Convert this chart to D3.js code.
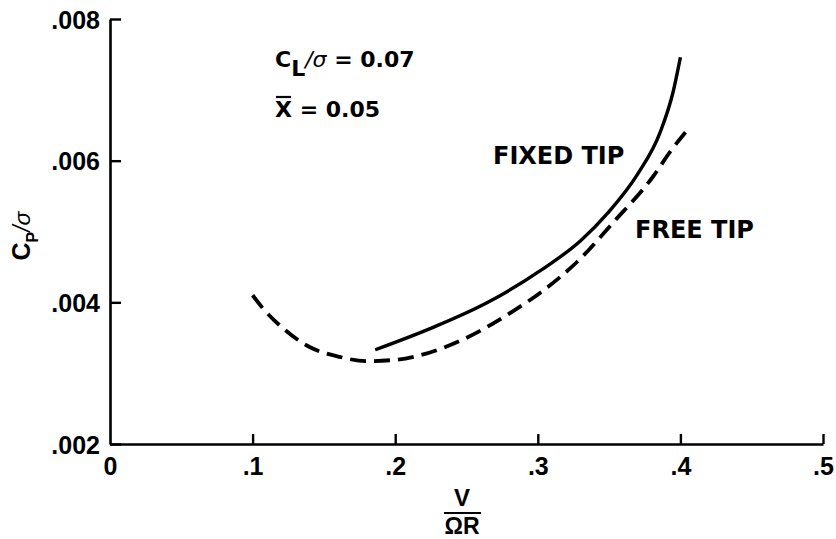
<!DOCTYPE html>
<html>
<head>
<meta charset="utf-8">
<script src="https://cdn.jsdelivr.net/npm/d3@7"></script>
<style>
  html, body { margin: 0; padding: 0; background: #fff; }
  svg { display: block; font-family: "Liberation Sans", Arial, Helvetica, sans-serif; }
  .lbl { font-weight: bold; fill: #000; }
  .wide { font-family: "DejaVu Sans", sans-serif; font-weight: bold; fill: #000; }
</style>
</head>
<body>
<svg id="chart" width="836" height="539"></svg>
<script>
// Rotor power coefficient vs advance ratio, fixed tip and free tip
const xTicks = [0, 0.1, 0.2, 0.3, 0.4, 0.5];
const xTickLabels = ["0", ".1", ".2", ".3", ".4", ".5"];
const yTicks = [0.002, 0.004, 0.006, 0.008];
const yTickLabels = [".002", ".004", ".006", ".008"];

const fixedTipMu = [0.186, 0.227, 0.264, 0.302, 0.330, 0.349, 0.370, 0.386, 0.395, 0.400];
const fixedTipCp = [0.00333, 0.00365, 0.00399, 0.00445, 0.00487, 0.00526, 0.00581, 0.00641, 0.00698, 0.00746];

const freeTipMu = [0.100, 0.107, 0.121, 0.140, 0.161, 0.180, 0.201, 0.217, 0.248, 0.283, 0.302, 0.328, 0.353, 0.381, 0.393, 0.406];
const freeTipCp = [0.00410, 0.00392, 0.00364, 0.00337, 0.00323, 0.00317, 0.00319, 0.00325, 0.00348, 0.00388, 0.00414, 0.00458, 0.00513, 0.00578, 0.00613, 0.00646];

const svg = d3.select("#chart");
const plotLeft = 110, plotRight = 823, plotTop = 19, plotBottom = 444;

const x = d3.scaleLinear().domain([0, 0.5]).range([plotLeft, plotRight]);
const y = d3.scaleLinear().domain([0.002, 0.008]).range([plotBottom, plotTop]);

const FS = 25;

// Y axis: ticks point inward
const yAxis = d3.axisLeft(y)
  .tickValues(yTicks)
  .tickFormat((d, i) => yTickLabels[i])
  .tickSizeInner(-11)
  .tickSizeOuter(0)
  .tickPadding(10);

const gy = svg.append("g").attr("transform", `translate(${plotLeft},0)`).call(yAxis);
gy.select(".domain").attr("stroke-width", 2.6).attr("stroke", "#000");
gy.selectAll(".tick line").attr("stroke-width", 2.4).attr("stroke", "#000");
gy.selectAll(".tick text")
  .attr("class", "lbl")
  .attr("font-size", FS)
  .attr("font-family", "Liberation Sans, Arial, sans-serif")
  .attr("dy", "0.36em");

// X axis: ticks point upward
const xAxis = d3.axisBottom(x)
  .tickValues(xTicks)
  .tickFormat((d, i) => xTickLabels[i])
  .tickSizeInner(-10)
  .tickSizeOuter(0)
  .tickPadding(13);

const gx = svg.append("g").attr("transform", `translate(0,${plotBottom})`).call(xAxis);
gx.select(".domain").attr("stroke-width", 2.6).attr("stroke", "#000");
gx.selectAll(".tick line").attr("stroke-width", 2.4).attr("stroke", "#000");
gx.selectAll(".tick text")
  .attr("class", "lbl")
  .attr("font-size", FS)
  .attr("font-family", "Liberation Sans, Arial, sans-serif");
gx.selectAll(".tick").filter(d => d === 0).select("line").remove();

// Curves
const line = d3.line()
  .x(d => x(d[0]))
  .y(d => y(d[1]))
  .curve(d3.curveMonotoneX);

const fixedData = fixedTipMu.map((m, i) => [m, fixedTipCp[i]]);
const freeData = freeTipMu.map((m, i) => [m, freeTipCp[i]]);

svg.append("path")
  .datum(fixedData)
  .attr("d", line)
  .attr("fill", "none")
  .attr("stroke", "#000")
  .attr("stroke-width", 3.4);

svg.append("path")
  .datum(freeData)
  .attr("d", line)
  .attr("fill", "none")
  .attr("stroke", "#000")
  .attr("stroke-width", 3.8)
  .attr("stroke-dasharray", "16,8");

// Curve labels
svg.append("text").attr("class", "wide").attr("x", 493).attr("y", 164)
  .attr("font-size", 24).text("FIXED TIP");
svg.append("text").attr("class", "wide").attr("x", 635).attr("y", 238)
  .attr("font-size", 24).text("FREE TIP");

// Condition annotations
const t1 = svg.append("text").attr("class", "wide").attr("x", 275).attr("y", 67).attr("font-size", 22);
t1.append("tspan").text("C");
t1.append("tspan").attr("dy", 9).text("L");
t1.append("tspan").attr("dy", -9).attr("font-weight", "normal").attr("font-style", "italic").text("/σ");
t1.append("tspan").text(" = 0.07");

const t2 = svg.append("text").attr("class", "wide").attr("x", 275).attr("y", 117).attr("font-size", 22);
t2.append("tspan").text("X");
t2.append("tspan").text(" = 0.05");
svg.append("line").attr("x1", 276).attr("x2", 291).attr("y1", 97).attr("y2", 97)
  .attr("stroke", "#000").attr("stroke-width", 2.2);

// Y axis title
const yt = svg.append("text").attr("class", "lbl")
  .attr("transform", "translate(30,236) rotate(-90)")
  .attr("text-anchor", "middle")
  .attr("font-size", 25);
yt.append("tspan").text("C");
yt.append("tspan").attr("font-size", 16).attr("dy", 8).text("P");
yt.append("tspan").attr("dy", -8).attr("font-weight", "normal").attr("font-style", "italic").attr("font-size", 23).text("/σ");

// X axis title as fraction V / ΩR
svg.append("text").attr("class", "lbl").attr("x", 462).attr("y", 506)
  .attr("text-anchor", "middle").attr("font-size", 24).text("V");
svg.append("line").attr("x1", 444).attr("x2", 481).attr("y1", 513).attr("y2", 513)
  .attr("stroke", "#000").attr("stroke-width", 2.2);
svg.append("text").attr("class", "lbl").attr("x", 462).attr("y", 534)
  .attr("text-anchor", "middle").attr("font-size", 23).text("ΩR");
</script>
</body>
</html>
